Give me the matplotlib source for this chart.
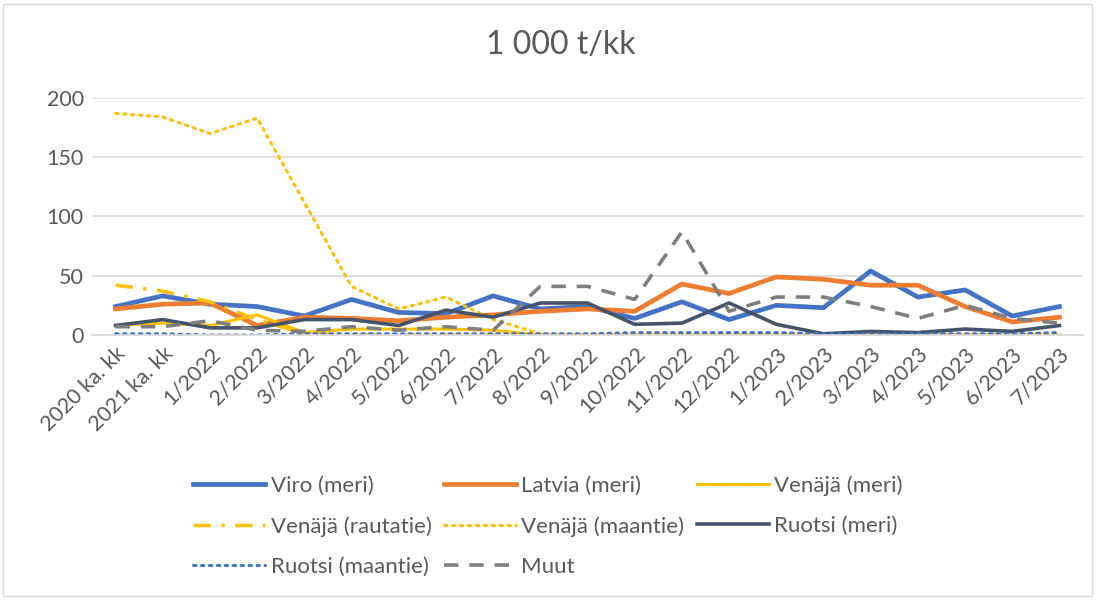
import matplotlib.pyplot as plt
from matplotlib.patches import Rectangle

plt.rcParams['font.family'] = ['Lato', 'DejaVu Sans']

categories = ['2020 ka. kk', '2021 ka. kk',
              '1/2022', '2/2022', '3/2022', '4/2022', '5/2022', '6/2022',
              '7/2022', '8/2022', '9/2022', '10/2022', '11/2022', '12/2022',
              '1/2023', '2/2023', '3/2023', '4/2023', '5/2023', '6/2023', '7/2023']

viro_meri = [24, 33, 26, 24, 16, 30, 19, 18, 33, 22, 24, 14, 28, 13, 25, 23, 54, 32, 38, 16, 24]
latvia_meri = [22, 26, 27, 8, 15, 14, 12, 15, 17, 20, 22, 20, 43, 35, 49, 47, 42, 42, 24, 11, 15]
venaja_meri = [8, 10, 8, 17, 2, 5, 5, 5, 4, 0, 0, 0, 0, 0, 0, 0, 0, 0, 0, 0, 0]
venaja_rautatie = [42, 37, 28, 13, 1, 0, 0, 0, 0, 0, 0, 0, 0, 0, 0, 0, 0, 0, 0, 0, 0]
venaja_maantie = [187, 184, 170, 183, 112, 41, 22, 32, 13, 1, 0, 0, 0, 0, 0, 0, 0, 0, 0, 0, 0]
ruotsi_meri = [8, 13, 6, 6, 13, 13, 8, 21, 15, 27, 27, 9, 10, 27, 9, 1, 3, 2, 5, 3, 8]
ruotsi_maantie = [1, 1, 0, 0, 1, 1, 1, 1, 1, 1, 1, 2, 2, 2, 2, 1, 1, 1, 1, 1, 2]
muut = [7, 7, 12, 4, 3, 7, 4, 7, 4, 41, 41, 30, 87, 20, 32, 32, 24, 14, 25, 14, 10]

text_col = '#595959'
x = range(len(categories))

fig = plt.figure(figsize=(11, 6), dpi=100)
fig.patches.append(Rectangle((0.003, 0.006), 0.99, 0.988, transform=fig.transFigure,
                             fill=False, edgecolor='#D9D9D9', linewidth=1))
ax = fig.add_axes([0.0836, 0.4417, 0.901, 0.395])

h1, = ax.plot(x, viro_meri, color='#4472C4', lw=3.4, label='Viro (meri)')
h2, = ax.plot(x, latvia_meri, color='#ED7D31', lw=3.4, label='Latvia (meri)')
h3, = ax.plot(x, venaja_meri, color='#FFC000', lw=2.2, label='Venäjä (meri)')
h4, = ax.plot(x, venaja_rautatie, color='#FFC000', lw=2.5, dashes=(5, 3, 1, 3),
              label='Venäjä (rautatie)')
h5, = ax.plot(x, venaja_maantie, color='#FFC000', lw=2.2, dashes=(0.8, 1.8),
              dash_capstyle='round', label='Venäjä (maantie)')
h6, = ax.plot(x, ruotsi_meri, color='#44546A', lw=2.6, label='Ruotsi (meri)')
h7, = ax.plot(x, ruotsi_maantie, color='#4472C4', lw=2.2, dashes=(0.8, 1.8),
              dash_capstyle='round', label='Ruotsi (maantie)')
h8, = ax.plot(x, muut, color='#7F7F7F', lw=2.6, dashes=(4, 3), label='Muut')

ax.set_xlim(-0.5, len(categories) - 0.5)
ax.set_ylim(0, 200)
ax.set_yticks([0, 50, 100, 150, 200])
ax.set_xticks(list(x))
ax.set_xticklabels(categories, rotation=45, ha='right', rotation_mode='anchor')
ax.tick_params(length=0, labelsize=15.5, colors=text_col, pad=6)
ax.grid(axis='y', color='#D9D9D9', lw=1.2)
ax.set_axisbelow(True)
for s in ['top', 'right', 'left']:
    ax.spines[s].set_visible(False)
ax.spines['bottom'].set_color('#D9D9D9')
ax.spines['bottom'].set_linewidth(1.2)

fig.text(0.51, 0.925, '1 000 t/kk', ha='center', va='center', fontsize=23, color=text_col)

# legend order so that the rows read like in the original
handles = [h1, h4, h7, h2, h5, h8, h3, h6]
leg = fig.legend(handles=handles, labels=[h.get_label() for h in handles], ncol=3,
                 loc='center', bbox_to_anchor=(0.498, 0.123), frameon=False, fontsize=16,
                 handlelength=3.25, handletextpad=0.25, columnspacing=0.55, labelspacing=0.92)
for t in leg.get_texts():
    t.set_color(text_col)

fig.savefig('out.png', dpi=100)
